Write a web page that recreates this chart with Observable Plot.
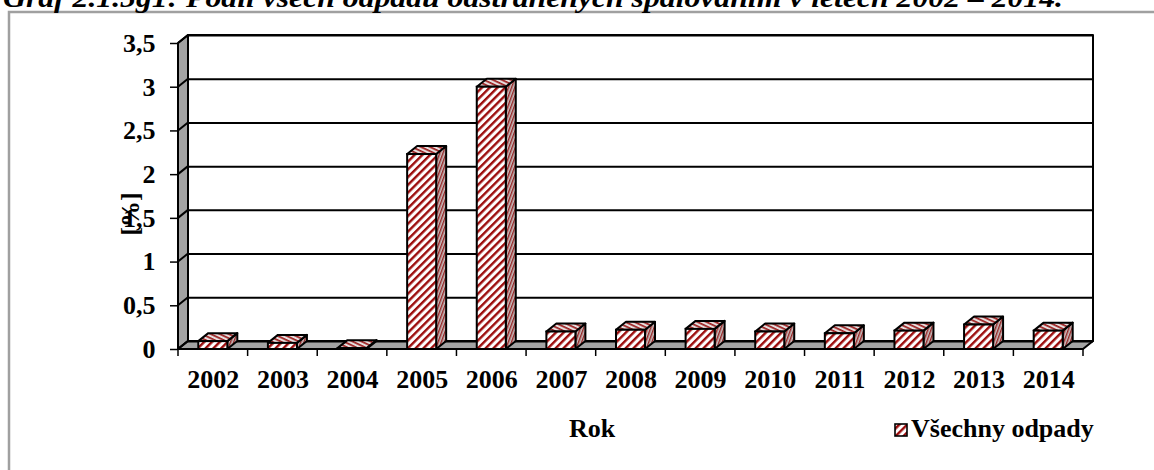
<!DOCTYPE html>
<html>
<head>
<meta charset="utf-8">
<script src="https://cdn.jsdelivr.net/npm/d3@7"></script>
<script src="https://cdn.jsdelivr.net/npm/@observablehq/plot@0.6"></script>
<style>
  html, body { margin: 0; padding: 0; background: #fff; overflow: hidden; }
</style>
</head>
<body>
<div id="chart"></div>
<script>
// Share of all waste disposed of by incineration, 2002–2014 [%]
const years = ["2002", "2003", "2004", "2005", "2006", "2007", "2008", "2009", "2010", "2011", "2012", "2013", "2014"];
const shares = [0.09, 0.07, 0.01, 2.23, 3.0, 0.2, 0.22, 0.23, 0.2, 0.18, 0.21, 0.28, 0.21];
const yTicks = [0, 0.5, 1, 1.5, 2, 2.5, 3, 3.5];

const titleText = "Graf 2.1.5g1: Podíl všech odpadů odstraněných spalováním v letech 2002 – 2014.";
const xTitle = "Rok";
const yTitle = "[%]";
const seriesName = "Všechny odpady";

const data = years.map((year, i) => ({year, share: shares[i]}));

// pseudo-3D depth of walls and columns, in pixels
const DX = 10, DY = -8;
const BAR_INSET = 20.3;
const FONT = '"Liberation Serif", "Times New Roman", serif';
const WALL = "#a3a3a3";

const W = 1154, H = 470;
const M = {left: 178, right: 71, top: 43, bottom: 121};

const fmt = d => String(d).replace(".", ",");

// side walls, floor and the left-wall part of each gridline
function walls(index, {x, y}) {
  const x0 = M.left, x1 = W - M.right;
  const y0 = y(0), yt = y(yTicks[yTicks.length - 1]);
  const g = d3.create("svg:g").attr("stroke", "black").attr("stroke-width", 2).attr("stroke-linejoin", "round");
  g.append("rect")
    .attr("x", x0 + DX).attr("y", yt + DY)
    .attr("width", x1 - x0).attr("height", y0 - yt)
    .attr("fill", "white");
  g.append("path")
    .attr("d", `M${x0},${y0}L${x0},${yt}L${x0 + DX},${yt + DY}L${x0 + DX},${y0 + DY}Z`)
    .attr("fill", WALL);
  g.append("path")
    .attr("d", `M${x0},${y0}L${x1},${y0}L${x1 + DX},${y0 + DY}L${x0 + DX},${y0 + DY}Z`)
    .attr("fill", WALL);
  for (const v of yTicks) {
    g.append("line")
      .attr("x1", x0).attr("y1", y(v))
      .attr("x2", x0 + DX).attr("y2", y(v) + DY);
  }
  return g.node();
}

// top and side faces of each column
function columnFaces(index, {x, y}) {
  const bw = x.bandwidth();
  const g = d3.create("svg:g").attr("stroke", "black").attr("stroke-width", 2).attr("stroke-linejoin", "round");
  for (const d of data) {
    const L = x(d.year) + BAR_INSET, R = x(d.year) + bw - BAR_INSET;
    const T = y(d.share), B = y(0);
    g.append("path")
      .attr("d", `M${R},${B}L${R},${T}L${R + DX},${T + DY}L${R + DX},${B + DY}Z`)
      .attr("fill", "url(#hatchSide)");
    g.append("path")
      .attr("d", `M${L},${T}L${R},${T}L${R + DX},${T + DY}L${L + DX},${T + DY}Z`)
      .attr("fill", "url(#hatchTop)");
  }
  return g.node();
}

// tick marks on category boundaries below the floor
function boundaryTicks(index, {x, y}) {
  const bw = x.bandwidth();
  const xs = years.map(yr => x(yr)).concat([x(years[years.length - 1]) + bw]);
  const g = d3.create("svg:g").attr("stroke", "black").attr("stroke-width", 1.5);
  for (const px of xs) {
    g.append("line").attr("x1", px).attr("x2", px).attr("y1", y(0)).attr("y2", y(0) + 7);
  }
  return g.node();
}

// outer frame, title, axis titles and legend
function decorations() {
  const g = d3.create("svg:g").attr("font-family", FONT).attr("fill", "black").attr("text-anchor", "start");
  g.append("rect")
    .attr("x", 9).attr("y", 12).attr("width", W).attr("height", H)
    .attr("fill", "none").attr("stroke", "#a0a0a0").attr("stroke-width", 2.5);
  g.append("text")
    .attr("x", 3).attr("y", 7)
    .attr("text-anchor", "start")
    .attr("font-size", 28).attr("font-weight", "bold").attr("font-style", "italic")
    .attr("textLength", 1060).attr("lengthAdjust", "spacingAndGlyphs")
    .text(titleText);
  g.append("text")
    .attr("transform", "translate(138.5,214) rotate(-90)")
    .attr("text-anchor", "middle")
    .attr("font-size", 26).attr("font-weight", "bold")
    .text(yTitle);
  g.append("text")
    .attr("x", 592).attr("y", 437)
    .attr("text-anchor", "middle")
    .attr("font-size", 26).attr("font-weight", "bold")
    .text(xTitle);
  g.append("rect")
    .attr("x", 895).attr("y", 424).attr("width", 12).attr("height", 12)
    .attr("fill", "url(#hatchFront)").attr("stroke", "black").attr("stroke-width", 1.6);
  g.append("text")
    .attr("x", 911).attr("y", 437)
    .attr("text-anchor", "start")
    .attr("font-size", 26).attr("font-weight", "bold")
    .text(seriesName);
  return g.node();
}

const chart = Plot.plot({
  width: W,
  height: H,
  marginLeft: M.left,
  marginRight: M.right,
  marginTop: M.top,
  marginBottom: M.bottom,
  style: {fontFamily: FONT, color: "black", background: "white", overflow: "hidden"},
  x: {type: "band", domain: years, padding: 0, round: false},
  y: {domain: [0, 3.5]},
  marks: [
    walls,
    Plot.ruleY(yTicks, {dx: DX, dy: DY, stroke: "black", strokeWidth: 2}),
    columnFaces,
    Plot.barY(data, {
      x: "year", y: "share",
      fill: "url(#hatchFront)", stroke: "black", strokeWidth: 2,
      insetLeft: BAR_INSET, insetRight: BAR_INSET
    }),
    boundaryTicks,
    Plot.axisY(yTicks, {
      tickSize: 8, tickPadding: 15, tickFormat: fmt,
      fontSize: 26, fontWeight: "bold", strokeWidth: 1.5, label: null
    }),
    Plot.axisX({
      tickSize: 0, tickPadding: 20,
      fontSize: 26, fontWeight: "bold", label: null
    }),
    decorations
  ]
});

// hatch fills for the column faces
const defs = d3.select(chart).insert("defs", ":first-child");
function hatch(id, size, stripe, angle, bg, fg) {
  const p = defs.append("pattern")
    .attr("id", id)
    .attr("patternUnits", "userSpaceOnUse")
    .attr("width", size).attr("height", size)
    .attr("patternTransform", `rotate(${angle})`);
  p.append("rect").attr("width", size).attr("height", size).attr("fill", bg);
  p.append("rect").attr("width", stripe).attr("height", size).attr("fill", fg);
}
hatch("hatchFront", 5.5, 2.4, 45, "#ffffff", "#9c0c0c");
hatch("hatchTop", 3.8, 1.7, 115, "#e6dfdf", "#9c1f1f");
hatch("hatchSide", 3, 1.4, 20, "#c6c0c0", "#962323");

document.getElementById("chart").appendChild(chart);
</script>
</body>
</html>
